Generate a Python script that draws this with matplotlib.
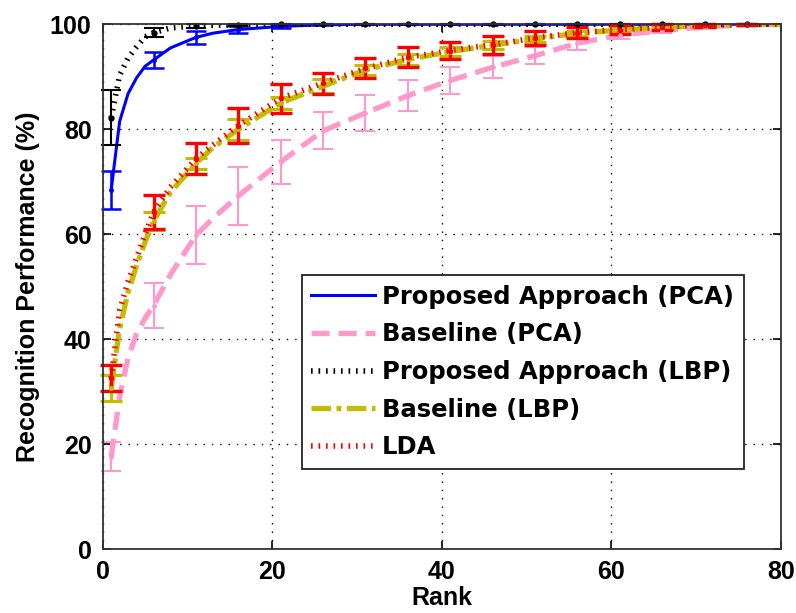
import numpy as np
import matplotlib
matplotlib.use("Agg")
import matplotlib.pyplot as plt

plt.rcParams.update({"font.family": ["Liberation Sans", "DejaVu Sans"],
                     "font.weight": "bold", "lines.scale_dashes": False})

# ranks where the curves were read, and ranks carrying error bars
ranks = [1, 2, 3, 4, 5, 6, 8, 11, 13, 16, 21, 26, 31, 36, 41, 46, 51, 56, 61, 66, 71, 76, 80]
err_ranks = [1, 6, 11, 16, 21, 26, 31, 36, 41, 46, 51, 56, 61, 66, 71, 76]

prop_pca = [68.4, 81.5, 86.8, 89.8, 92.0, 93.2, 95.5, 97.5, 98.3, 99.0, 99.6, 99.9, 100, 100,
            100, 100, 100, 100, 100, 100, 100, 100, 100]
base_pca = [17.6, 29.0, 36.5, 41.0, 44.0, 46.4, 52.3, 59.8, 63.0, 67.3, 73.8, 79.7, 83.1, 86.4,
            89.3, 91.8, 94.0, 96.4, 97.9, 98.8, 99.5, 99.9, 100]
prop_lbp = [82.2, 90.3, 93.6, 95.7, 97.6, 98.4, 99.3, 99.7, 99.8, 99.9, 100, 100, 100, 100,
            100, 100, 100, 100, 100, 100, 100, 100, 100]
base_lbp = [30.7, 42.0, 49.0, 54.0, 58.5, 62.5, 68.0, 73.5, 76.5, 80.0, 85.0, 88.2, 91.3, 93.3,
            94.8, 96.0, 97.2, 98.3, 98.9, 99.4, 99.7, 100, 100]
lda = [32.6, 45.5, 51.0, 55.5, 60.0, 64.2, 69.0, 74.4, 77.0, 80.7, 85.9, 88.8, 91.6, 93.7,
       95.0, 96.1, 97.4, 98.4, 99.0, 99.5, 99.8, 100, 100]

err_prop_pca = [3.6, 1.6, 1.2, 0.6, 0.3, 0.1, 0, 0, 0, 0, 0, 0, 0, 0, 0, 0]
err_base_pca = [2.7, 4.3, 5.5, 5.5, 4.2, 3.5, 3.5, 3.0, 2.6, 2.1, 1.6, 1.3, 0.8, 0.5, 0.3, 0.1]
err_prop_lbp = [5.2, 0.8, 0.4, 0.2, 0, 0, 0, 0, 0, 0, 0, 0, 0, 0, 0, 0]
err_base_lbp = [2.5, 1.7, 1.0, 2.0, 1.2, 1.3, 1.0, 1.0, 0.8, 0.8, 0.6, 0.5, 0.4, 0.3, 0.2, 0.1]
err_lda = [2.5, 3.3, 3.0, 3.3, 2.8, 2.0, 1.9, 1.9, 1.7, 1.75, 1.4, 1.05, 0.8, 0.5, 0.3, 0.1]

labels = ["Proposed Approach (PCA)", "Baseline (PCA)", "Proposed Approach (LBP)",
          "Baseline (LBP)", "LDA"]

fig = plt.figure(figsize=(7.96, 6.13), dpi=100)
ax = fig.add_axes([0.129, 0.1044, 0.852, 0.856])

idx = [ranks.index(r) for r in err_ranks]
series = [
    (prop_pca, err_prop_pca, "#0000ff", dict(ls="-", lw=2.2), 1.8, 10, 5),
    (base_pca, err_base_pca, "#ff99cc", dict(ls=(0, (13, 6.5)), lw=3.8), 1.5, 10, 5),
    (prop_lbp, err_prop_lbp, "black", dict(ls=(0, (1.2, 4.2)), lw=4.0, dash_capstyle="butt"), 1.5, 10, 7),
    (base_lbp, err_base_lbp, "#bfbf00", dict(ls=(0, (14, 4, 3.5, 4)), lw=3.8, dash_capstyle="butt"), 2.2, 12, 5),
    (lda, err_lda, "#ff0000", dict(ls=(0, (1.2, 4.2)), lw=4.0, dash_capstyle="butt"), 2.4, 12, 6),
]
for (vals, errs, col, style, elw, cap, ms), lab in zip(series, labels):
    ax.plot(ranks, vals, color=col, label=lab, **style)
    ax.errorbar(err_ranks, [vals[i] for i in idx], yerr=errs, fmt=".", color=col, ms=ms,
                elinewidth=elw, capsize=cap / 2 + 2, capthick=elw, clip_on=False)

ax.set_xlim(0, 80)
ax.set_ylim(0, 100)
ax.set_xticks(range(0, 81, 20))
ax.set_yticks(range(0, 101, 20))
ax.tick_params(direction="in", length=6, top=True, right=True, labelsize=18, pad=8, width=1.2)
ax.grid(True, color="black", ls=(0, (1, 5)), lw=1.0)
for s in ax.spines.values():
    s.set_linewidth(1.3)
    s.set_color("#333333")
ax.set_xlabel("Rank", fontsize=18, fontweight="bold", labelpad=1)
ax.set_ylabel("Recognition Performance (%)", fontsize=18, fontweight="bold", labelpad=7)

leg = ax.legend(loc="upper left", bbox_to_anchor=(0.2935, 0.522), fancybox=False, framealpha=1,
                edgecolor="#222222", handlelength=2.6, handletextpad=0.3, labelspacing=0.56,
                borderpad=0.4, borderaxespad=0,
                prop={"family": "DejaVu Sans", "weight": "bold", "size": 17.5})
leg.get_frame().set_linewidth(1.3)

fig.savefig("out.png", dpi=100)
